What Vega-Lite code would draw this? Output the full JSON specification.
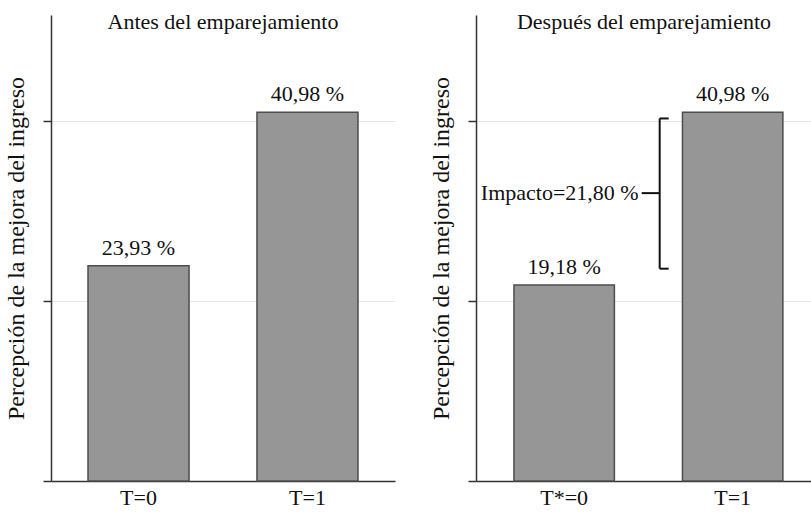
{
  "$schema": "https://vega.github.io/schema/vega-lite/v6.json",
  "background": "white",
  "padding": {"left": 4, "top": 11, "right": 0, "bottom": 0},
  "bounds": "flush",
  "spacing": 81,
  "config": {
    "view": {"stroke": null},
    "font": "Liberation Serif",
    "title": {"font": "Liberation Serif", "fontSize": 22, "fontWeight": "normal", "color": "#111111", "offset": -19, "baseline": "alphabetic", "anchor": "middle"},
    "axis": {"labelFont": "Liberation Serif", "titleFont": "Liberation Serif", "labelColor": "#111111", "titleColor": "#111111", "titleFontWeight": "normal", "domainColor": "#333333", "domainWidth": 1.5, "tickColor": "#333333", "tickWidth": 1.5}
  },
  "datasets": {
    "barras": [
      {"panel": "antes", "grupo": "T=0", "valor": 23.93, "etiqueta": "23,93 %"},
      {"panel": "antes", "grupo": "T=1", "valor": 40.98, "etiqueta": "40,98 %"},
      {"panel": "despues", "grupo": "T*=0", "valor": 21.8, "etiqueta": "19,18 %"},
      {"panel": "despues", "grupo": "T=1", "valor": 40.98, "etiqueta": "40,98 %"}
    ],
    "impacto": [
      {"superior": 40.3, "inferior": 23.6, "medio": 32.0, "etiqueta": "Impacto=21,80 %"}
    ]
  },
  "hconcat": [
    {
      "width": 344,
      "height": 466,
      "title": {"text": "Antes del emparejamiento"},
      "data": {"name": "barras"},
      "transform": [{"filter": "datum.panel === 'antes'"}],
      "encoding": {
        "x": {"field": "grupo", "type": "nominal", "sort": null,
          "scale": {"paddingInner": 0.402, "paddingOuter": 0.219},
          "axis": {"title": null, "labelAngle": 0, "ticks": false, "labelFontSize": 22, "labelPadding": 6}},
        "y": {"field": "valor", "type": "quantitative",
          "scale": {"domain": [0, 51.8], "nice": false},
          "axis": {"title": "Percepción de la mejora del ingreso", "titleFontSize": 24, "titlePadding": 14, "values": [0, 20, 40], "labels": false, "grid": true, "gridColor": "#e6e6e6", "gridWidth": 1, "tickSize": 8}}
      },
      "layer": [
        {"mark": {"type": "bar", "color": "#969696", "stroke": "#4d4d4d", "strokeWidth": 1.5}},
        {"mark": {"type": "text", "fontSize": 22, "dy": -11, "baseline": "alphabetic", "color": "#111111"},
          "encoding": {"text": {"field": "etiqueta"}}}
      ]
    },
    {
      "width": 336,
      "height": 466,
      "title": {"text": "Después del emparejamiento"},
      "layer": [
        {
          "data": {"name": "barras"},
          "transform": [{"filter": "datum.panel === 'despues'"}],
          "layer": [
            {"mark": {"type": "bar", "color": "#969696", "stroke": "#4d4d4d", "strokeWidth": 1.5},
              "encoding": {
                "x": {"field": "grupo", "type": "nominal", "sort": null},
                "y": {"field": "valor", "type": "quantitative"}
              }},
            {"mark": {"type": "text", "fontSize": 22, "dy": -11, "baseline": "alphabetic", "color": "#111111"},
              "encoding": {
                "x": {"field": "grupo", "type": "nominal", "sort": null},
                "y": {"field": "valor", "type": "quantitative"},
                "text": {"field": "etiqueta"}}}
          ]
        },
        {
          "data": {"name": "impacto"},
          "layer": [
            {"mark": {"type": "rule", "color": "#111111", "strokeWidth": 2, "xOffset": -73},
              "encoding": {"x": {"datum": "T=1"}, "y": {"field": "superior", "type": "quantitative"}, "y2": {"field": "inferior"}}},
            {"mark": {"type": "rule", "color": "#111111", "strokeWidth": 2, "xOffset": -73, "x2Offset": -64},
              "encoding": {"x": {"datum": "T=1"}, "x2": {"datum": "T=1"}, "y": {"field": "superior", "type": "quantitative"}}},
            {"mark": {"type": "rule", "color": "#111111", "strokeWidth": 2, "xOffset": -73, "x2Offset": -64},
              "encoding": {"x": {"datum": "T=1"}, "x2": {"datum": "T=1"}, "y": {"field": "inferior", "type": "quantitative"}}},
            {"mark": {"type": "rule", "color": "#111111", "strokeWidth": 2, "xOffset": -91, "x2Offset": -73},
              "encoding": {"x": {"datum": "T=1"}, "x2": {"datum": "T=1"}, "y": {"field": "medio", "type": "quantitative"}}},
            {"mark": {"type": "text", "fontSize": 22, "align": "right", "baseline": "middle", "dx": -94, "color": "#111111"},
              "encoding": {"x": {"datum": "T=1"}, "y": {"field": "medio", "type": "quantitative"}, "text": {"field": "etiqueta"}}}
          ]
        }
      ],
      "encoding": {
        "x": {"scale": {"domain": ["T*=0", "T=1"], "paddingInner": 0.404, "paddingOuter": 0.199, "align": 0.566},
          "axis": {"title": null, "labelAngle": 0, "ticks": false, "labelFontSize": 22, "labelPadding": 6}},
        "y": {"scale": {"domain": [0, 51.8], "nice": false},
          "axis": {"title": "Percepción de la mejora del ingreso", "titleFontSize": 24, "titlePadding": 14, "values": [0, 20, 40], "labels": false, "grid": true, "gridColor": "#e6e6e6", "gridWidth": 1, "tickSize": 8}}
      }
    }
  ]
}
